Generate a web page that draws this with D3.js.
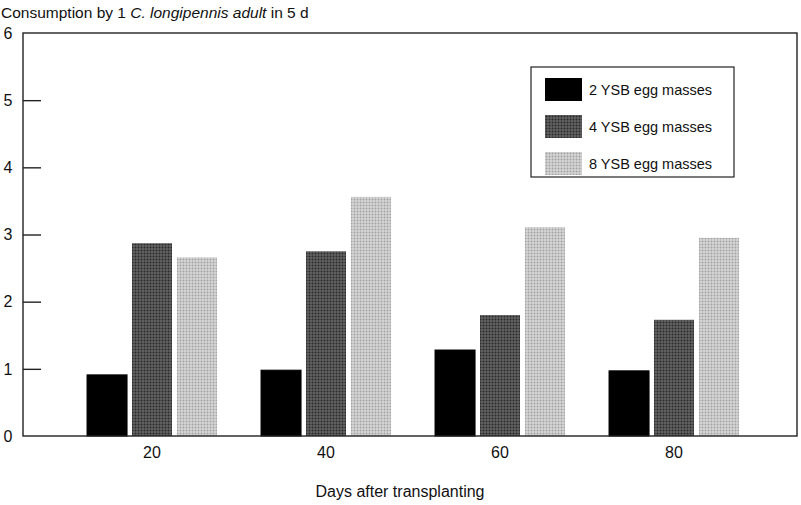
<!DOCTYPE html>
<html>
<head>
<meta charset="utf-8">
<script src="https://cdn.jsdelivr.net/npm/d3@7"></script>
<style>
  html, body { margin: 0; padding: 0; background: #fff; }
  svg { display: block; font-family: "Liberation Sans", Arial, Helvetica, sans-serif; }
</style>
</head>
<body>
<svg id="chart" width="801" height="505"></svg>
<script>
// Days after transplanting (groups)
const days = ["20", "40", "60", "80"];
// Egg-mass density series
const seriesNames = ["2 YSB egg masses", "4 YSB egg masses", "8 YSB egg masses"];
// Egg masses consumed per adult in 5 d, per series, per day group
const twoMasses   = [0.91, 0.98, 1.28, 0.97];
const fourMasses  = [2.87, 2.75, 1.80, 1.73];
const eightMasses = [2.66, 3.56, 3.11, 2.95];
const yTicks = [0, 1, 2, 3, 4, 5, 6];

const seriesValues = [twoMasses, fourMasses, eightMasses];

const svg = d3.select("#chart");
const frame = { left: 23, right: 797, top: 33, bottom: 436 };

// Halftone-like fills
const defs = svg.append("defs");
function halftone(id, base, dot, r) {
  const p = defs.append("pattern")
    .attr("id", id).attr("patternUnits", "userSpaceOnUse")
    .attr("width", 3).attr("height", 3);
  p.append("rect").attr("width", 3).attr("height", 3).attr("fill", base);
  p.append("circle").attr("cx", 1.5).attr("cy", 1.5).attr("r", r).attr("fill", dot);
}
halftone("hDark", "#626262", "#2a2a2a", 1.0);
halftone("hLight", "#d6d6d6", "#a2a2a2", 1.0);
const fills = ["#000", "url(#hDark)", "url(#hLight)"];

const y = d3.scaleLinear().domain([0, 6]).range([frame.bottom, frame.top]);
const x0 = d3.scaleBand().domain(days).range([65, 761]).paddingInner(0).paddingOuter(0);
const x1 = d3.scaleBand().domain(d3.range(seriesNames.length))
  .range([0, x0.bandwidth()]).paddingInner(0.11).paddingOuter(0.49);

// Bars
const groups = svg.append("g").selectAll("g").data(days).join("g")
  .attr("transform", d => `translate(${x0(d)},0)`);
groups.selectAll("rect")
  .data((d, i) => seriesValues.map((s, k) => ({ k, v: s[i] })))
  .join("rect")
  .attr("x", d => x1(d.k))
  .attr("width", x1.bandwidth())
  .attr("y", d => y(d.v))
  .attr("height", d => y(0) - y(d.v))
  .attr("fill", d => fills[d.k])
  .attr("stroke", d => d.k === 0 ? "#000" : "none");

// Frame
svg.append("rect")
  .attr("x", frame.left).attr("y", frame.top)
  .attr("width", frame.right - frame.left).attr("height", frame.bottom - frame.top)
  .attr("fill", "none").attr("stroke", "#222").attr("stroke-width", 1.4);

// Y axis: inward ticks, labels at far left
const yAxis = d3.axisRight(y).tickValues(yTicks.slice(1, -1)).tickSize(18).tickFormat("");
svg.append("g").attr("transform", `translate(${frame.left},0)`).call(yAxis)
  .call(g => g.select(".domain").remove())
  .call(g => g.selectAll("line").attr("stroke", "#222").attr("stroke-width", 1.4));
svg.append("g").selectAll("text").data(yTicks).join("text")
  .attr("x", 8).attr("y", d => y(d)).attr("dy", "0.36em")
  .attr("text-anchor", "middle").attr("font-size", 16).attr("fill", "#111")
  .text(d => d);

// X labels
svg.append("g").selectAll("text").data(days).join("text")
  .attr("x", d => x0(d) + x0.bandwidth() / 2).attr("y", 458)
  .attr("text-anchor", "middle").attr("font-size", 16).attr("fill", "#111")
  .text(d => d);

svg.append("text").attr("x", 400).attr("y", 497)
  .attr("text-anchor", "middle").attr("font-size", 16).attr("fill", "#111")
  .text("Days after transplanting");

// Title with italic species name
const title = svg.append("text").attr("x", 1).attr("y", 18)
  .attr("font-size", 15.5).attr("fill", "#111");
title.append("tspan").text("Consumption by 1 ");
title.append("tspan").attr("font-style", "italic").text("C. longipennis adult");
title.append("tspan").text(" in 5 d");

// Legend
const legend = svg.append("g");
legend.append("rect").attr("x", 531).attr("y", 67).attr("width", 203).attr("height", 110)
  .attr("fill", "#fff").attr("stroke", "#222").attr("stroke-width", 1.2);
const items = legend.selectAll("g.item").data(seriesNames).join("g")
  .attr("class", "item")
  .attr("transform", (d, i) => `translate(545,${78 + i * 37})`);
items.append("rect").attr("width", 37).attr("height", 23)
  .attr("fill", (d, i) => fills[i]);
items.append("text").attr("x", 44).attr("y", 12).attr("dy", "0.36em")
  .attr("font-size", 14.5).attr("fill", "#111").text(d => d);
</script>
</body>
</html>
